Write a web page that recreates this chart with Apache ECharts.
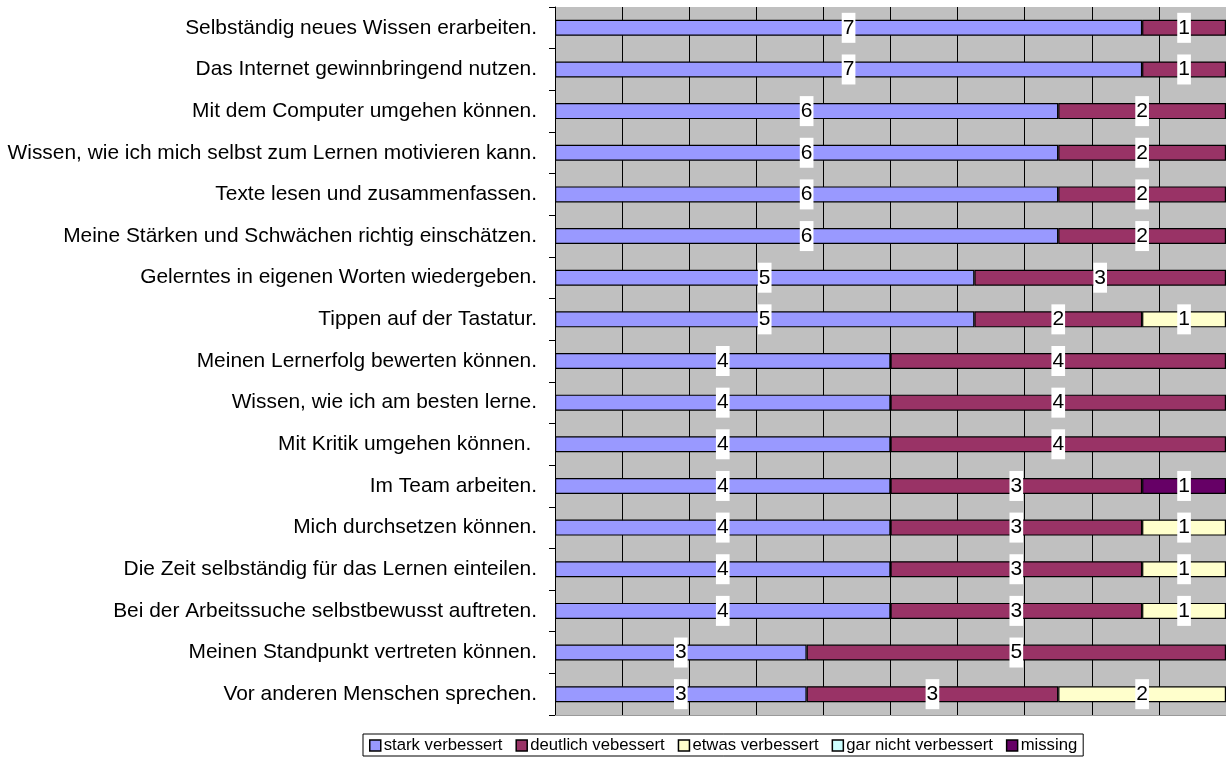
<!DOCTYPE html>
<html><head><meta charset="utf-8">
<script src="https://cdn.jsdelivr.net/npm/echarts@6/dist/echarts.min.js"></script>
<style>html,body{margin:0;padding:0;background:#fff}#c{width:1226px;height:760px}</style>
</head><body><div id="c"></div>
<script>
const categories = [
  "Selbständig neues Wissen erarbeiten.",
  "Das Internet gewinnbringend nutzen.",
  "Mit dem Computer umgehen können.",
  "Wissen, wie ich mich selbst zum Lernen motivieren kann.",
  "Texte lesen und zusammenfassen.",
  "Meine Stärken und Schwächen richtig einschätzen.",
  "Gelerntes in eigenen Worten wiedergeben.",
  "Tippen auf der Tastatur.",
  "Meinen Lernerfolg bewerten können.",
  "Wissen, wie ich am besten lerne.",
  "Mit Kritik umgehen können. ",
  "Im Team arbeiten.",
  "Mich durchsetzen können.",
  "Die Zeit selbständig für das Lernen einteilen.",
  "Bei der Arbeitssuche selbstbewusst auftreten.",
  "Meinen Standpunkt vertreten können.",
  "Vor anderen Menschen sprechen."
];
const seriesNames = ["stark verbessert","deutlich vebessert","etwas verbessert","gar nicht verbessert","missing"];
const starkVerbessert   = [7,7,6,6,6,6,5,5,4,4,4,4,4,4,4,3,3];
const deutlichVebessert = [1,1,2,2,2,2,3,2,4,4,4,3,3,3,3,5,3];
const etwasVerbessert   = [null,null,null,null,null,null,null,1,null,null,null,null,1,1,1,null,2];
const garNichtVerbessert= [null,null,null,null,null,null,null,null,null,null,null,null,null,null,null,null,null];
const missing           = [null,null,null,null,null,null,null,null,null,null,null,1,null,null,null,null,null];
const colors = ["#9999ff","#993366","#ffffcc","#ccffff","#660066"];
const values = [starkVerbessert, deutlichVebessert, etwasVerbessert, garNichtVerbessert, missing];

const chart = echarts.init(document.getElementById('c'), null, {renderer:'canvas'});
chart.setOption({
  animation:false,
  textStyle:{fontFamily:'"Liberation Sans", Arial, sans-serif'},
  grid:{left:555, top:7, width:672, height:708, show:true, backgroundColor:'#c0c0c0', borderWidth:0, containLabel:false},
  xAxis:{type:'value', min:0, max:8, interval:0.8,
    axisLabel:{show:false}, axisTick:{show:false},
    axisLine:{show:true, lineStyle:{color:'#9a9a9a', width:1}},
    splitLine:{show:true, lineStyle:{color:'#000', width:1}}},
  yAxis:{type:'category', data:categories, inverse:true,
    axisLine:{show:true, lineStyle:{color:'#000', width:1}},
    axisTick:{show:true, length:6, lineStyle:{color:'#000'}},
    axisLabel:{color:'#000', fontSize:20.9, margin:18, fontFamily:'"Liberation Sans", Arial, sans-serif'},
    splitLine:{show:false}},
  legend:{top:734, left:363, itemWidth:11, itemHeight:11, itemGap:13,
    textStyle:{fontSize:16.7, color:'#000', padding:[0,0,0,-2]},
    borderColor:'#000', borderWidth:1, padding:[3,6,2,6], borderRadius:0,
    data:seriesNames.map((n,i)=>({name:n, itemStyle:{color:colors[i], borderColor:'#000', borderWidth:1.5}, icon:'rect'}))},
  series: seriesNames.map((n,i)=>({
    name:n, type:'bar', stack:'total', barWidth:16,
    data: values[i],
    itemStyle:{color:colors[i], borderColor:'#000', borderWidth:1.2},
    label:{show:true, position:'inside', color:'#000', fontSize:21, backgroundColor:'#fff',
      padding:[4,1,3,1], lineHeight:23,
      formatter:p=> (p.value==null?'':String(p.value))}
  }))
});
</script></body></html>
